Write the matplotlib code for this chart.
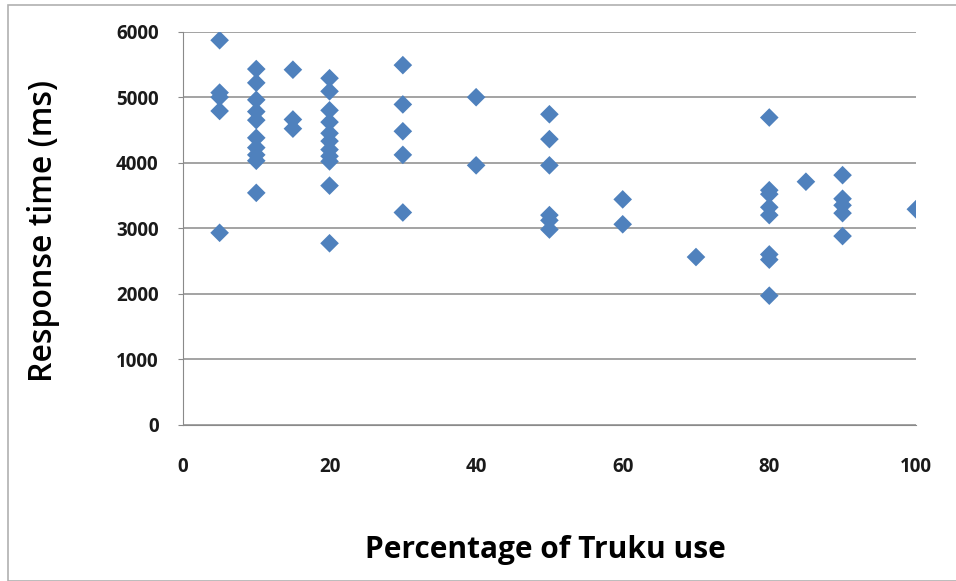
import matplotlib
matplotlib.use("Agg")
import matplotlib.pyplot as plt
from matplotlib.patches import Rectangle

# percentage of Truku use, response time (ms) per column of points
pct_5 = [5870, 5070, 5000, 4790, 2930]
pct_10 = [5430, 5220, 4960, 4780, 4650, 4380, 4230, 4120, 4030, 3540]
pct_15 = [5420, 4660, 4520]
pct_20 = [5290, 5090, 4800, 4620, 4450, 4330, 4200, 4100, 4020, 3650, 2770]
pct_30 = [5490, 4890, 4480, 4120, 3240]
pct_40 = [5000, 3960]
pct_50 = [4740, 4360, 3960, 3200, 3120, 2980]
pct_60 = [3440, 3060]
pct_70 = [2560]
pct_80 = [4690, 3580, 3520, 3320, 3200, 2600, 2520, 1970]
pct_85 = [3710]
pct_90 = [3810, 3450, 3350, 3230, 2880]
pct_100 = [3290]

groups = {5: pct_5, 10: pct_10, 15: pct_15, 20: pct_20, 30: pct_30,
          40: pct_40, 50: pct_50, 60: pct_60, 70: pct_70, 80: pct_80,
          85: pct_85, 90: pct_90, 100: pct_100}

x = []
y = []
for k, vals in groups.items():
    x += [k] * len(vals)
    y += vals

fig = plt.figure(figsize=(9.56, 5.81), dpi=100)
ax = fig.add_axes([0.1914, 0.269, 0.7666, 0.6764])

ax.scatter(x, y, marker="D", s=90, color="#4F81BD", edgecolors="none", zorder=3)

ax.set_xlim(0, 100)
ax.set_ylim(0, 6000)
ax.set_xticks(range(0, 101, 20))
ax.set_yticks(range(0, 6001, 1000))
ax.yaxis.grid(True, color="#8a8a8a", linewidth=1.1)
ax.set_axisbelow(True)

for s in ["top", "right"]:
    ax.spines[s].set_visible(False)
ax.spines["left"].set_color("#8a8a8a")
ax.spines["bottom"].set_color("#8a8a8a")
ax.tick_params(axis="y", length=3.6, color="#8a8a8a", pad=14)
ax.tick_params(axis="x", length=0, pad=23)

for lab in ax.get_xticklabels() + ax.get_yticklabels():
    lab.set_fontfamily("Open Sans")
    lab.set_fontweight("bold")
    lab.set_fontsize(13.5)
    lab.set_color("#1a1a1a")

ax.set_xlabel("Percentage of Truku use", fontsize=21.5, fontweight="bold",
              family="Open Sans", va="baseline")
ax.xaxis.set_label_coords(0.495, -0.339)
ax.set_ylabel("Response time (ms)", fontsize=23, fontweight="semibold",
              family="Open Sans")
ax.yaxis.set_label_coords(-0.168, 0.493)

# outer frame of the chart area
fig.patches.append(Rectangle((0.008, 0.0), 1.0, 0.992, transform=fig.transFigure,
                             fill=False, edgecolor="#b0b0b0", linewidth=1.2))

fig.savefig("out.png", dpi=100)
